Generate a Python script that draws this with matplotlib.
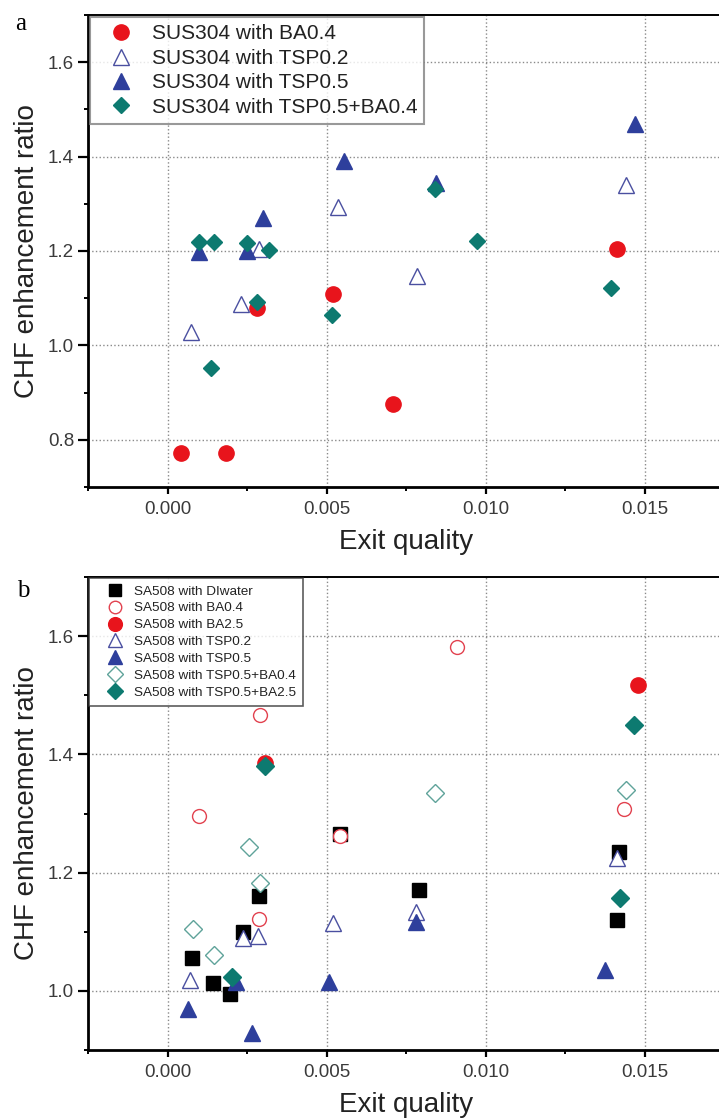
import matplotlib
matplotlib.use("Agg")
import matplotlib.pyplot as plt
from matplotlib.ticker import MultipleLocator

plt.rcParams["font.family"] = ["Liberation Sans", "DejaVu Sans"]

# Panel a : SUS304
a_ba04_x = [0.00042, 0.00183, 0.0028, 0.0052, 0.0071, 0.01412]
a_ba04_y = [0.773, 0.773, 1.079, 1.109, 0.876, 1.204]

a_tsp02_x = [0.00073, 0.0023, 0.00288, 0.00535, 0.00786, 0.01443]
a_tsp02_y = [1.028, 1.088, 1.204, 1.293, 1.148, 1.339]

a_tsp05_x = [0.00099, 0.0025, 0.0030, 0.00555, 0.00844, 0.0147]
a_tsp05_y = [1.198, 1.200, 1.270, 1.390, 1.344, 1.470]

a_mix_x = [0.00099, 0.00145, 0.00251, 0.0032, 0.0028, 0.00136, 0.00517, 0.0084, 0.00973, 0.01395]
a_mix_y = [1.218, 1.218, 1.216, 1.203, 1.091, 0.953, 1.064, 1.332, 1.222, 1.122]

# Panel b : SA508
b_di_x = [0.00076, 0.00142, 0.00197, 0.00236, 0.00288, 0.00542, 0.00792, 0.0142, 0.01413]
b_di_y = [1.055, 1.013, 0.994, 1.100, 1.160, 1.266, 1.170, 1.235, 1.120]

b_ba04_x = [0.0010, 0.00292, 0.00288, 0.00543, 0.0091, 0.01436]
b_ba04_y = [1.295, 1.466, 1.122, 1.262, 1.581, 1.308]

b_ba25_x = [0.00305, 0.01481]
b_ba25_y = [1.385, 1.518]

b_tsp02_x = [0.0007, 0.00236, 0.00286, 0.00519, 0.00781, 0.01415]
b_tsp02_y = [1.018, 1.090, 1.093, 1.115, 1.134, 1.224]

b_tsp05_x = [0.00066, 0.00215, 0.00265, 0.00508, 0.00781, 0.01375]
b_tsp05_y = [0.970, 1.015, 0.929, 1.015, 1.117, 1.035]

b_mix04_x = [0.00081, 0.00145, 0.00257, 0.0029, 0.00841, 0.01441]
b_mix04_y = [1.104, 1.060, 1.243, 1.182, 1.335, 1.340]

b_mix25_x = [0.00203, 0.00306, 0.01468, 0.01424]
b_mix25_y = [1.023, 1.380, 1.450, 1.157]

red = "#e8141c"
red_open = "#e2424f"
blue = "#2e3f9c"
blue_open = "#4a4fa0"
teal = "#0d7a70"
teal_open = "#5fa39a"

xticks = [0.000, 0.005, 0.010, 0.015]
xticklabels = ["0.000", "0.005", "0.010", "0.015"]


def style_axes(ax, ymin, yticks):
    ax.set_xlim(-0.0025, 0.0175)
    ax.set_ylim(ymin, 1.7)
    ax.set_xticks(xticks)
    ax.set_xticklabels(xticklabels)
    ax.xaxis.set_minor_locator(MultipleLocator(0.0025))
    ax.set_yticks(yticks)
    ax.set_yticklabels(["%.1f" % v for v in yticks])
    ax.yaxis.set_minor_locator(MultipleLocator(0.1))
    ax.tick_params(axis="both", which="major", direction="out", width=1.6,
                   labelsize=13.5, labelcolor="#3a3a3a")
    ax.tick_params(axis="y", which="major", length=7, pad=3)
    ax.tick_params(axis="x", which="major", length=5, pad=5)
    ax.tick_params(axis="both", which="minor", direction="out", width=1.4, length=3)
    ax.tick_params(top=False, right=False, which="both")
    for side in ["left", "bottom"]:
        ax.spines[side].set_linewidth(2.0)
    ax.spines["top"].set_linewidth(1.4)
    ax.grid(True, which="major", linestyle=":", linewidth=1.0, color="#8a8a8a")
    ax.set_axisbelow(True)
    ax.set_xlabel("Exit quality", fontsize=20, labelpad=8, color="#222222")
    ax.set_ylabel("CHF enhancement ratio", fontsize=20, labelpad=6, color="#222222")


fig = plt.figure(figsize=(7.19, 11.2), dpi=100)

# ---- panel a
ax1 = fig.add_axes([0.1224, 0.5652, 0.8846, 0.4214])
ax1.plot(a_ba04_x, a_ba04_y, "o", ls="none", ms=11, color=red, mec=red,
         label="SUS304 with BA0.4")
ax1.plot(a_tsp02_x, a_tsp02_y, "^", ls="none", ms=11, mfc="white", mec=blue_open,
         mew=1.0, label="SUS304 with TSP0.2")
ax1.plot(a_tsp05_x, a_tsp05_y, "^", ls="none", ms=11, color=blue, mec=blue,
         label="SUS304 with TSP0.5")
ax1.plot(a_mix_x, a_mix_y, "D", ls="none", ms=8.5, color=teal, mec=teal,
         label="SUS304 with TSP0.5+BA0.4")
style_axes(ax1, 0.7, [0.8, 1.0, 1.2, 1.4, 1.6])
leg1 = ax1.legend(loc="upper left", bbox_to_anchor=(0.0, 1.0), borderaxespad=0.1,
                  fontsize=15, frameon=True, fancybox=False, labelspacing=0.26,
                  borderpad=0.35, handlelength=2.3, handletextpad=0.3)
leg1.get_frame().set_edgecolor("#808080")
leg1.get_frame().set_linewidth(1.5)
for t in leg1.get_texts():
    t.set_color("#222222")

# ---- panel b
ax2 = fig.add_axes([0.1224, 0.0625, 0.8846, 0.4223])
ax2.plot(b_di_x, b_di_y, "s", ls="none", ms=9.5, color="black",
         label="SA508 with DIwater")
ax2.plot(b_ba04_x, b_ba04_y, "o", ls="none", ms=10, mfc="white", mec=red_open,
         mew=1.0, label="SA508 with BA0.4")
ax2.plot(b_ba25_x, b_ba25_y, "o", ls="none", ms=11, color=red, mec=red,
         label="SA508 with BA2.5")
ax2.plot(b_tsp02_x, b_tsp02_y, "^", ls="none", ms=11.5, mfc="white", mec=blue_open,
         mew=1.0, label="SA508 with TSP0.2")
ax2.plot(b_tsp05_x, b_tsp05_y, "^", ls="none", ms=11.5, color=blue, mec=blue,
         label="SA508 with TSP0.5")
ax2.plot(b_mix04_x, b_mix04_y, "D", ls="none", ms=9.5, mfc="white", mec=teal_open,
         mew=1.0, label="SA508 with TSP0.5+BA0.4")
ax2.plot(b_mix25_x, b_mix25_y, "D", ls="none", ms=9.2, color=teal, mec=teal,
         label="SA508 with TSP0.5+BA2.5")
style_axes(ax2, 0.9, [1.0, 1.2, 1.4, 1.6])
leg2 = ax2.legend(loc="upper left", bbox_to_anchor=(0.0, 1.0), borderaxespad=0.1,
                  fontsize=9.7, frameon=True, fancybox=False, labelspacing=0.33,
                  borderpad=0.5, handlelength=2.8, handletextpad=0.05,
                  markerscale=0.9)
leg2.get_frame().set_edgecolor("#333333")
leg2.get_frame().set_linewidth(1.2)
for t in leg2.get_texts():
    t.set_color("#222222")

# panel letters
fig.text(15 / 719, 1 - 30 / 1120, "a", fontsize=18, family="Liberation Serif",
         ha="left", va="baseline")
fig.text(17 / 719, 1 - 597 / 1120, "b", fontsize=18, family="Liberation Serif",
         ha="left", va="baseline")

fig.savefig("out.png", dpi=100)
